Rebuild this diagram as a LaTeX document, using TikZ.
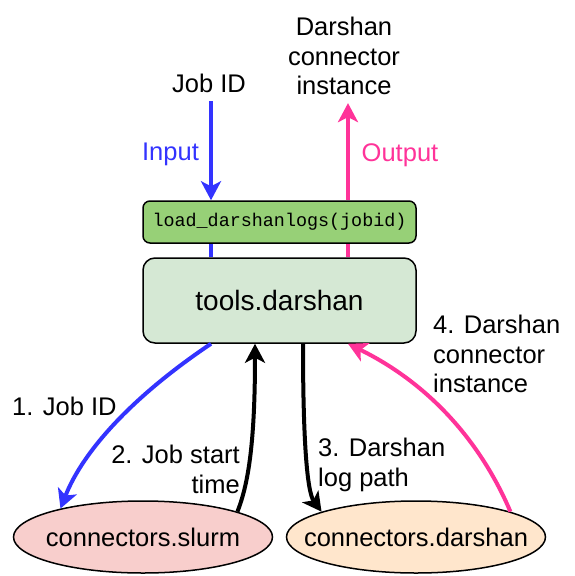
\documentclass[tikz,border=0pt]{standalone}
\usepackage{fontspec}
\setmainfont{Liberation Sans}
\newfontfamily\codefont{Liberation Mono}
\usetikzlibrary{arrows.meta,shapes.geometric}
\definecolor{inblue}{HTML}{3333FF}
\definecolor{outpink}{HTML}{FF3399}
\definecolor{toolfill}{HTML}{D5E8D4}
\definecolor{loadfill}{HTML}{97D077}
\definecolor{slurmfill}{HTML}{F8CECC}
\definecolor{darshfill}{HTML}{FFE6CC}
\begin{document}
\begin{tikzpicture}[x=1pt,y=-1pt,
  lbl/.style={inner sep=0pt, font=\fontsize{25.5}{29.5}\selectfont},
  loadbox/.style={draw=black, line width=1.5pt, fill=loadfill, rounded corners=7pt,
    minimum width=273pt, minimum height=42pt, inner sep=0pt,
    font=\codefont\fontsize{18.4}{20}\selectfont},
  toolbox/.style={draw=black, line width=1.5pt, fill=toolfill, rounded corners=12pt,
    minimum width=273pt, minimum height=85pt, inner sep=0pt,
    font=\fontsize{28}{32}\selectfont},
  connell/.style={ellipse, draw=black, line width=1.5pt, minimum width=259pt,
    minimum height=72pt, inner sep=0pt, font=\fontsize{25.5}{29.5}\selectfont},
  arr/.style={line width=4pt, -{Stealth[length=19pt,width=20pt,inset=5pt]}},
  plainline/.style={line width=4pt}]
\useasboundingbox (0,0) rectangle (575,576);

% nodes
\node[loadbox] (load) at (279.5,222) {load\_darshanlogs(jobid)};
\node[toolbox] (tools) at (279.5,300.5) {tools.darshan};
\node[connell, fill=slurmfill] (slurm) at (143,537) {\makebox[0pt]{connectors.slurm}};
\node[connell, fill=darshfill] (darsh) at (416,537) {\makebox[0pt]{connectors.darshan}};

\node[lbl, anchor=north] (jobid) at (209,74) {Job ID};
\node[lbl, anchor=north, align=center] (outlbl) at (344,17) {Darshan\\connector\\instance};
\node[lbl, anchor=north, text=inblue] (inputlbl) at (170.5,143) {Input};
\node[lbl, anchor=north, text=outpink] (outputlbl) at (400,143) {Output};
\node[lbl, anchor=north west] (l1) at (12,397) {1. Job ID};
\node[lbl, anchor=north east, align=right] (l2) at (240,445) {2. Job start\\time};
\node[lbl, anchor=north west, align=left] (l3) at (318,438) {3. Darshan\\log path};
\node[lbl, anchor=north west, align=left] (l4) at (433,315) {4. Darshan\\connector\\instance};

% vertical input / output lines
\coordinate (bluetop) at ([xshift=-68.5pt]load.north);
\coordinate (bluebot) at ([xshift=-68.5pt]load.south);
\coordinate (pinktop) at ([xshift=68.5pt]load.north);
\coordinate (pinkbot) at ([xshift=68.5pt]load.south);
\draw[arr, draw=inblue, shorten <=8pt] (bluetop |- jobid.south) -- (bluetop);
\draw[plainline, draw=inblue] (bluebot) -- (bluebot |- tools.north);
\draw[arr, draw=outpink, shorten >=8pt] (pinktop) -- (pinktop |- outlbl.south);
\draw[plainline, draw=outpink] (pinkbot |- tools.north) -- (pinkbot);

% curved connectors
\draw[arr, draw=inblue] ([xshift=-68.5pt]tools.south)
  .. controls (135.7,394.3) and (83.7,449) .. (slurm.161);
\draw[arr, draw=black] (slurm.15)
  .. controls (247,487) and (255,450) .. ([xshift=-24.5pt]tools.south);
\draw[arr, draw=black] ([xshift=23.5pt]tools.south)
  .. controls (303,440) and (307,492) .. (darsh.165);
\draw[arr, draw=outpink] (darsh.15)
  .. controls (479,438) and (426,382) .. ([xshift=68.5pt]tools.south);
\end{tikzpicture}
\end{document}
